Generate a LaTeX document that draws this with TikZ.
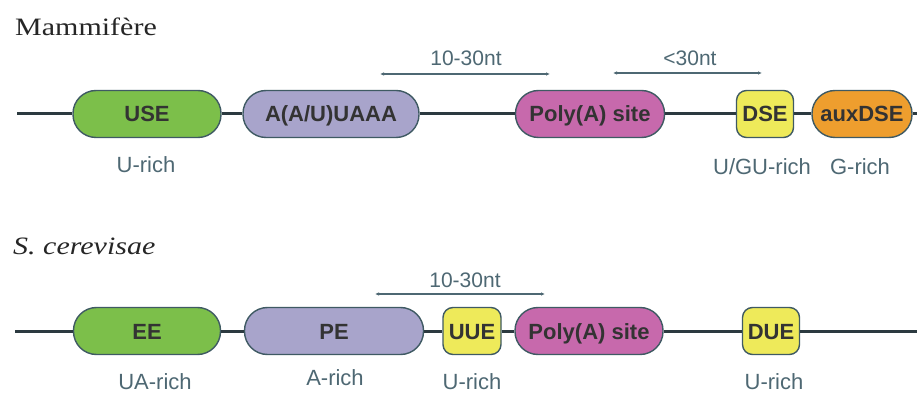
\documentclass[tikz,border=0pt]{standalone}
\usepackage{fontspec}
\setmainfont{Liberation Sans}
\newfontfamily\titlefont[FakeStretch=1.2]{Liberation Serif}
\usetikzlibrary{positioning}
\usetikzlibrary{arrows.meta}

\definecolor{useGreen}{HTML}{7CBF4A}
\definecolor{peLilac}{HTML}{A8A4CB}
\definecolor{siteMagenta}{HTML}{C769AC}
\definecolor{dseYellow}{HTML}{EEEA5A}
\definecolor{auxOrange}{HTML}{EE9E2E}
\definecolor{edgeGray}{HTML}{3F5A63}
\definecolor{labelGray}{HTML}{4E6873}
\definecolor{dnaGray}{HTML}{2C3A40}

\begin{document}
\begin{tikzpicture}[x=1pt, y=-1pt,
    elem/.style={draw=edgeGray, line width=1.4pt, inner sep=0pt, minimum height=47pt,
        text height=16pt, text depth=0pt, text=black!80,
        font=\fontsize{22}{24}\selectfont\bfseries},
    pill/.style={elem, rounded corners=23pt},
    box/.style={elem, rounded corners=10pt, minimum width=57pt},
    rich/.style={text=labelGray, inner sep=0pt, font=\fontsize{22}{24}\selectfont},
    dna/.style={dnaGray, line width=3pt},
    span/.style={labelGray, line width=1.2pt, {Latex[length=4pt,width=3.5pt]}-{Latex[length=4pt,width=3.5pt]}},
    spanlbl/.style={text=labelGray, inner sep=0pt, font=\fontsize{21}{23}\selectfont},
    title/.style={inner sep=0pt, anchor=base west, text=black!85, font=\titlefont\fontsize{25}{28}\selectfont}]
    \useasboundingbox[fill=white] (0,0) rectangle (917,419);

    % Mammifere
    \node[title] (mam) at (15,36) {Mammifère};
    \node[pill, fill=useGreen, minimum width=148pt] (use) at (147,114) {USE};
    \node[pill, fill=peLilac, minimum width=176pt] (aau) at (331,114) {A(A/U)UAAA};
    \node[pill, fill=siteMagenta, minimum width=149pt] (siteM) at (590,114) {Poly(A) site};
    \node[box, fill=dseYellow] (dse) at (765,114) {DSE};
    \node[pill, fill=auxOrange, minimum width=100pt] (aux) at (862,114) {auxDSE};
    \coordinate (mA) at (17,114);
    \coordinate (mB) at (917,114);
    \draw[dna] (mA) -- (use);
    \draw[dna] (use) -- (aau);
    \draw[dna] (aau) -- (siteM);
    \draw[dna] (siteM) -- (dse);
    \draw[dna] (dse) -- (aux);
    \draw[dna] (aux) -- (mB);
    \node[rich] (urichM) at (146,165) {U-rich};
    \node[rich] (ugurich) at (762,167) {U/GU-rich};
    \node[rich] (grich) at (860,167) {G-rich};
    \coordinate (sA) at (380,74);
    \coordinate (sB) at (550,74);
    \draw[span] (sA) -- (sB);
    \node[spanlbl] (ntA) at (466,58) {10-30nt};
    \coordinate (sC) at (613,73);
    \coordinate (sD) at (762,73);
    \draw[span] (sC) -- (sD);
    \node[spanlbl] (ntB) at (690,58) {<30nt};

    % S. cerevisae
    \node[title, font=\titlefont\itshape\fontsize{25}{28}\selectfont] (cer) at (13,255) {S. cerevisae};
    \node[pill, fill=useGreen, minimum width=147pt] (ee) at (147,331) {EE};
    \node[pill, fill=peLilac, minimum width=179pt] (pe) at (334,331) {PE};
    \node[box, fill=dseYellow, minimum width=58pt] (uue) at (472,331) {UUE};
    \node[pill, fill=siteMagenta, minimum width=148pt] (siteS) at (589,331) {Poly(A) site};
    \node[box, fill=dseYellow] (due) at (771,331) {DUE};
    \coordinate (cA) at (15,331);
    \coordinate (cB) at (917,331);
    \draw[dna] (cA) -- (ee);
    \draw[dna] (ee) -- (pe);
    \draw[dna] (pe) -- (uue);
    \draw[dna] (uue) -- (siteS);
    \draw[dna] (siteS) -- (due);
    \draw[dna] (due) -- (cB);
    \node[rich] (uarich) at (155,382) {UA-rich};
    \node[rich] (arich) at (335,378) {A-rich};
    \node[rich] (urichU) at (472,382) {U-rich};
    \node[rich] (urichD) at (774,382) {U-rich};
    \coordinate (sE) at (375,294);
    \coordinate (sF) at (545,294);
    \draw[span] (sE) -- (sF);
    \node[spanlbl] (ntC) at (465,280) {10-30nt};
\end{tikzpicture}
\end{document}
